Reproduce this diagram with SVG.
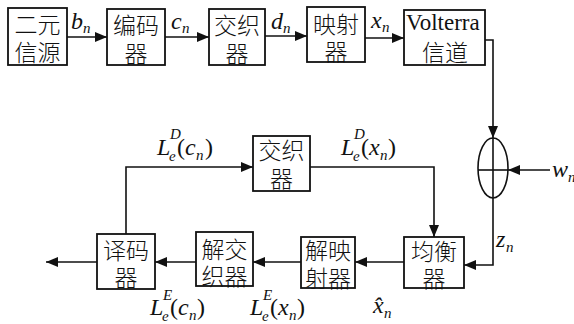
<svg xmlns="http://www.w3.org/2000/svg" width="574" height="324" viewBox="0 0 574 324">
<style>
.box{fill:#fff;stroke:#111;stroke-width:1.8}
.cn{font-family:"Noto Sans CJK SC","Noto Sans CJK JP",sans-serif;font-size:23px;font-weight:300;fill:#111;text-anchor:middle}
.ln{fill:none;stroke:#111;stroke-width:1.6}
.m{font-family:"Liberation Serif","Times New Roman",serif;font-style:italic;font-size:24px;fill:#111}
.s{font-size:15px}
.r{font-style:normal}
.v{font-family:"Liberation Serif","Times New Roman",serif;font-size:23px;font-weight:normal;text-anchor:start}
</style>
<defs>
<marker id="ah" markerUnits="userSpaceOnUse" markerWidth="12" markerHeight="10" refX="12" refY="5" orient="auto">
<path d="M0,0 L12,5 L0,10 Z" fill="#111"/>
</marker>
</defs>
<rect width="574" height="324" fill="#fff"/>
<g id="connectors">
<line class="ln" x1="67" y1="37" x2="107" y2="37" marker-end="url(#ah)"/>
<line class="ln" x1="165" y1="37" x2="209" y2="37" marker-end="url(#ah)"/>
<line class="ln" x1="265" y1="36" x2="307" y2="36" marker-end="url(#ah)"/>
<line class="ln" x1="365" y1="38" x2="404" y2="38" marker-end="url(#ah)"/>
<polyline class="ln" points="485,40 493,40 493,138" marker-end="url(#ah)"/>
<line class="ln" x1="550" y1="170" x2="508" y2="170" marker-end="url(#ah)"/>
<polyline class="ln" points="493,198 493,265 464,265" marker-end="url(#ah)"/>
<line class="ln" x1="404" y1="262" x2="355" y2="262" marker-end="url(#ah)"/>
<line class="ln" x1="301" y1="262" x2="253" y2="262" marker-end="url(#ah)"/>
<line class="ln" x1="196" y1="262" x2="155" y2="262" marker-end="url(#ah)"/>
<line class="ln" x1="97" y1="262" x2="46" y2="262" marker-end="url(#ah)"/>
<polyline class="ln" points="126,234 126,167 253,167" marker-end="url(#ah)"/>
<polyline class="ln" points="310,167 434,167 434,237" marker-end="url(#ah)"/>
</g>
<g id="source"><rect class="box" x="8" y="8" width="59" height="57"/><text class="cn"><tspan x="37.5" y="33">二元</tspan><tspan x="37.5" y="61">信源</tspan></text></g>
<g id="encoder"><rect class="box" x="107" y="9" width="58" height="56"/><text class="cn"><tspan x="136" y="34">编码</tspan><tspan x="136" y="62">器</tspan></text></g>
<g id="interleaver1"><rect class="box" x="209" y="9" width="56" height="56"/><text class="cn"><tspan x="237" y="34">交织</tspan><tspan x="237" y="62">器</tspan></text></g>
<g id="mapper"><rect class="box" x="307" y="7" width="58" height="55"/><text class="cn"><tspan x="336" y="33">映射</tspan><tspan x="336" y="60">器</tspan></text></g>
<g id="channel"><rect class="box" x="404" y="10" width="81" height="55"/><text class="cn"><tspan class="v" x="406" y="30">Volterra</tspan><tspan x="445" y="61">信道</tspan></text></g>
<g id="adder"><ellipse cx="493" cy="168" rx="15" ry="30" fill="#fff" stroke="#111" stroke-width="1.6"/><line class="ln" x1="478" y1="170" x2="508" y2="170"/><line class="ln" x1="493" y1="138" x2="493" y2="198"/></g>
<g id="interleaver2"><rect class="box" x="253" y="136" width="57" height="55"/><text class="cn"><tspan x="281.5" y="159">交织</tspan><tspan x="281.5" y="187">器</tspan></text></g>
<g id="equalizer"><rect class="box" x="404" y="237" width="60" height="51"/><text class="cn"><tspan x="434" y="260">均衡</tspan><tspan x="434" y="287">器</tspan></text></g>
<g id="demapper"><rect class="box" x="301" y="237" width="54" height="51"/><text class="cn"><tspan x="328" y="259">解映</tspan><tspan x="328" y="287">射器</tspan></text></g>
<g id="deinterleaver"><rect class="box" x="196" y="232" width="57" height="54"/><text class="cn"><tspan x="224.5" y="258">解交</tspan><tspan x="224.5" y="285">织器</tspan></text></g>
<g id="decoder"><rect class="box" x="97" y="234" width="58" height="55"/><text class="cn"><tspan x="126" y="259">译码</tspan><tspan x="126" y="286">器</tspan></text></g>
<g id="labels">
<text class="m" x="71" y="29">b<tspan class="s" x="83" y="33">n</tspan></text>
<text class="m" x="171" y="29">c<tspan class="s" x="182" y="33">n</tspan></text>
<text class="m" x="271" y="29">d<tspan class="s" x="283" y="33">n</tspan></text>
<text class="m" x="371" y="28">x<tspan class="s" x="382" y="32">n</tspan></text>
<text class="m" x="552" y="177">w<tspan class="s" x="568" y="182">n</tspan></text>
<text class="m" x="496" y="247">z<tspan class="s" x="506" y="252">n</tspan></text>
<text class="m" x="157" y="155">L<tspan class="s" x="170" y="139">D</tspan><tspan class="s" x="169" y="161">e</tspan><tspan class="r" x="177" y="155">(</tspan><tspan x="185" y="155">c</tspan><tspan class="s" x="196" y="160">n</tspan><tspan class="r" x="205" y="155">)</tspan></text>
<text class="m" x="341" y="155">L<tspan class="s" x="354" y="139">D</tspan><tspan class="s" x="353" y="161">e</tspan><tspan class="r" x="361" y="155">(</tspan><tspan x="369" y="155">x</tspan><tspan class="s" x="380" y="160">n</tspan><tspan class="r" x="388" y="155">)</tspan></text>
<text class="m" x="150" y="315">L<tspan class="s" x="163" y="300">E</tspan><tspan class="s" x="162" y="321">e</tspan><tspan class="r" x="170" y="315">(</tspan><tspan x="178" y="315">c</tspan><tspan class="s" x="189" y="320">n</tspan><tspan class="r" x="197" y="315">)</tspan></text>
<text class="m" x="250" y="315">L<tspan class="s" x="263" y="300">E</tspan><tspan class="s" x="262" y="321">e</tspan><tspan class="r" x="270" y="315">(</tspan><tspan x="278" y="315">x</tspan><tspan class="s" x="289" y="320">n</tspan><tspan class="r" x="297" y="315">)</tspan></text>
<text class="m" x="373" y="313">x̂<tspan class="s" x="384" y="318">n</tspan></text>
</g>
</svg>
